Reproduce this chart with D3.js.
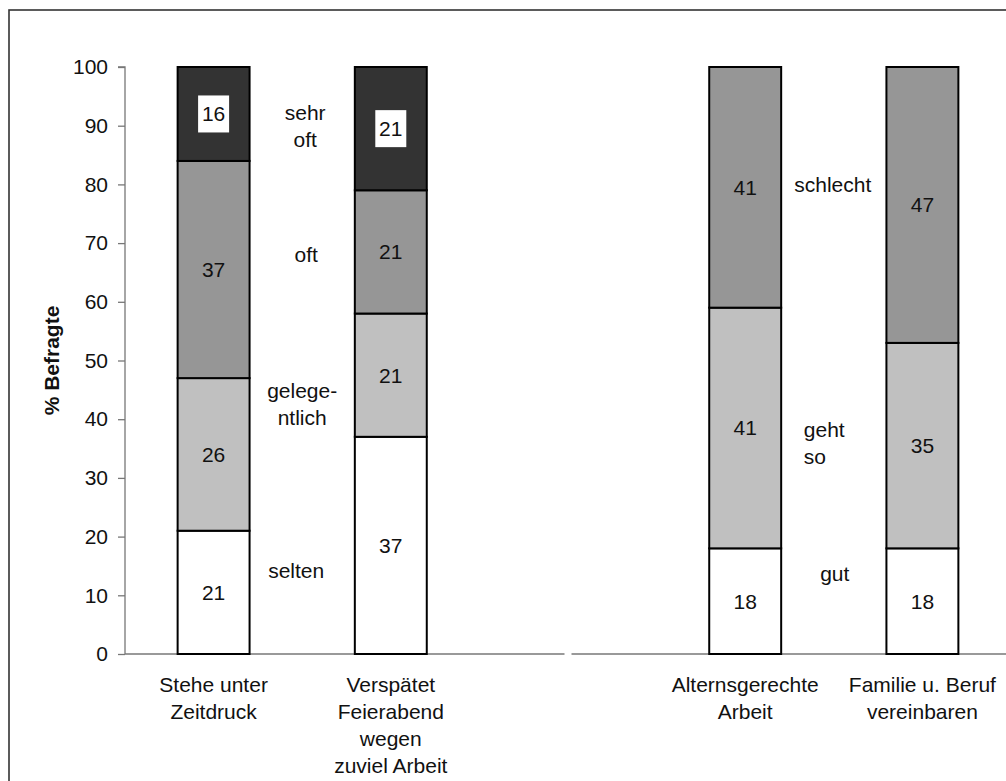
<!DOCTYPE html>
<html>
<head>
<meta charset="utf-8">
<script src="https://cdn.jsdelivr.net/npm/d3@7"></script>
<style>
  html, body { margin: 0; padding: 0; background: #fff; }
  svg { display: block; font-family: "Liberation Sans", Arial, sans-serif; }
</style>
</head>
<body>
<svg id="chart" width="1006" height="781"></svg>
<script>
// Slots along the x axis; the middle slot is left empty to separate the two groups.
const slots = ["zeitdruck", "feierabend", "gap", "alternsgerecht", "familie"];
const categoryLabels = [
  ["Stehe unter", "Zeitdruck"],
  ["Verspätet", "Feierabend", "wegen", "zuviel Arbeit"],
  [],
  ["Alternsgerechte", "Arbeit"],
  ["Familie u. Beruf", "vereinbaren"]
];

// Frequency answers (left group), bottom to top
const frequencyLevels = ["selten", "gelegentlich", "oft", "sehr oft"];
const zeitdruckValues = [21, 26, 37, 16];
const feierabendValues = [37, 21, 21, 21];

// Rating answers (right group), bottom to top
const ratingLevels = ["gut", "geht so", "schlecht"];
const alternsgerechtValues = [18, 41, 41];
const familieValues = [18, 35, 47];

const yTicks = [0, 10, 20, 30, 40, 50, 60, 70, 80, 90, 100];
const yTitle = "% Befragte";

// Level annotations written between the bars of each group
const frequencyNotes = [["selten"], ["gelege-", "ntlich"], ["oft"], ["sehr", "oft"]];
const ratingNotes = [["gut"], ["geht", "so"], ["schlecht"]];

const shades = ["#ffffff", "#c0c0c0", "#969696", "#333333"];
const FS = 21;

const svg = d3.select("#chart");

const x = d3.scaleBand()
  .domain(slots)
  .range([125, 1011])
  .paddingInner(0.594)
  .paddingOuter(0.297);

const y = d3.scaleLinear().domain([0, 100]).range([654, 67]);

// Outer frame
svg.append("rect")
  .attr("x", 9).attr("y", 10)
  .attr("width", 1010).attr("height", 800)
  .attr("fill", "none").attr("stroke", "#333").attr("stroke-width", 1.6);

// Y axis
const yAxis = svg.append("g")
  .attr("transform", `translate(${x.range()[0]},0)`)
  .call(d3.axisLeft(y).tickValues(yTicks).tickSize(7).tickPadding(10).tickFormat(d3.format("d")));
yAxis.selectAll("path, line").attr("stroke", "#777").attr("stroke-width", 1.3);
yAxis.select(".domain").attr("d", `M-7,${y(100)}H0V${y(0)}`);
yAxis.selectAll("text")
  .attr("font-family", "Liberation Sans, Arial, sans-serif")
  .attr("font-size", FS).attr("fill", "#111");

svg.append("text")
  .attr("transform", `translate(52,${(y(0) + y(100)) / 2}) rotate(-90)`)
  .attr("text-anchor", "middle").attr("dy", "0.35em")
  .attr("font-size", FS).attr("font-weight", "bold").attr("fill", "#111")
  .text(yTitle);

// X axis baseline, broken at the empty middle slot
const gapCenter = x("gap") + x.bandwidth() / 2;
[[x.range()[0], gapCenter - 3.5], [gapCenter + 3.5, x.range()[1]]].forEach(([a, b]) => {
  svg.append("line")
    .attr("x1", a).attr("x2", b)
    .attr("y1", y(0)).attr("y2", y(0))
    .attr("stroke", "#777").attr("stroke-width", 1.3);
});

// Category labels under the bars
slots.forEach((s, i) => {
  const t = svg.append("text")
    .attr("text-anchor", "middle")
    .attr("font-size", FS).attr("fill", "#111");
  categoryLabels[i].forEach((line, j) => {
    t.append("tspan")
      .attr("x", x(s) + x.bandwidth() / 2)
      .attr("y", y(0) + 38 + j * 27)
      .text(line);
  });
});

// Stacked bars
const bars = [
  { slot: "zeitdruck", values: zeitdruckValues },
  { slot: "feierabend", values: feierabendValues },
  { slot: "alternsgerecht", values: alternsgerechtValues },
  { slot: "familie", values: familieValues }
];

bars.forEach(bar => {
  let base = 0;
  const segs = bar.values.map((v, i) => {
    const seg = { y0: base, y1: base + v, value: v, level: i };
    base += v;
    return seg;
  });
  const g = svg.append("g");
  g.selectAll("rect")
    .data(segs)
    .join("rect")
    .attr("x", x(bar.slot))
    .attr("width", x.bandwidth())
    .attr("y", d => y(d.y1))
    .attr("height", d => y(d.y0) - y(d.y1))
    .attr("fill", d => shades[d.level])
    .attr("stroke", "#000")
    .attr("stroke-width", 2);

  const cx = x(bar.slot) + x.bandwidth() / 2;
  segs.forEach(d => {
    const cy = y((d.y0 + d.y1) / 2);
    if (d.level === 3) {
      g.append("rect")
        .attr("x", cx - 15.5).attr("y", cy - 18.5)
        .attr("width", 31).attr("height", 37)
        .attr("fill", "#fff");
    }
    g.append("text")
      .attr("x", cx).attr("y", cy)
      .attr("dy", "0.35em")
      .attr("text-anchor", "middle")
      .attr("font-size", FS).attr("fill", "#111")
      .text(d.value);
  });
});

// Level annotations between bars
function annotate(lines, value, cx, anchor) {
  const lh = 27;
  const t = svg.append("text")
    .attr("text-anchor", anchor)
    .attr("font-size", FS).attr("fill", "#111");
  const first = y(value) - (lines.length - 1) * lh / 2;
  lines.forEach((line, j) => {
    t.append("tspan")
      .attr("x", cx)
      .attr("y", first + j * lh)
      .attr("dy", "0.35em")
      .text(line);
  });
}

const leftMid = (x("zeitdruck") + x("feierabend")) / 2 + x.bandwidth() / 2;
const rightMid = (x("alternsgerecht") + x("familie")) / 2 + x.bandwidth() / 2;

// anchor values for each annotation (position along the percentage axis)
const frequencyNoteAt = [14.2, 42.5, 68, 90];
const ratingNoteAt = [13.7, 36, 80];

annotate(frequencyNotes[0], frequencyNoteAt[0], leftMid - 6, "middle");
annotate(frequencyNotes[1], frequencyNoteAt[1], leftMid, "middle");
annotate(frequencyNotes[2], frequencyNoteAt[2], leftMid + 4, "middle");
annotate(frequencyNotes[3], frequencyNoteAt[3], leftMid + 3, "middle");

annotate(ratingNotes[0], ratingNoteAt[0], rightMid + 1, "middle");
annotate(ratingNotes[1], ratingNoteAt[1], rightMid - 30, "start");
annotate(ratingNotes[2], ratingNoteAt[2], rightMid - 1, "middle");
</script>
</body>
</html>
